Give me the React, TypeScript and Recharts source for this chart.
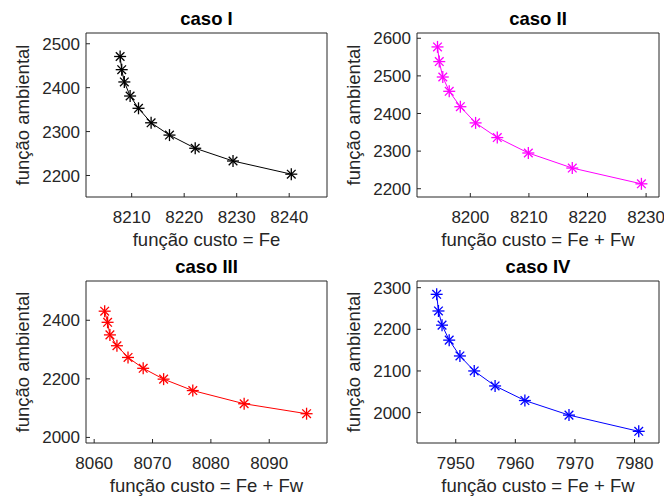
import { LineChart, Line, XAxis, YAxis, Label } from 'recharts'

// caso I
const casoIx = [8207.8, 8208.1, 8208.6, 8209.7, 8211.3, 8213.7, 8217.2, 8222.1, 8229.3, 8240.4]
const casoIy = [2471, 2441, 2413, 2381, 2353, 2320, 2292, 2262, 2233, 2203]
// caso II
const casoIIx = [8194.4, 8194.7, 8195.3, 8196.4, 8198.3, 8200.9, 8204.6, 8209.9, 8217.4, 8229.2]
const casoIIy = [2577, 2538, 2497, 2459, 2418, 2375, 2336, 2295, 2255, 2213]
// caso III
const casoIIIx = [8061.8, 8062.3, 8062.7, 8063.9, 8065.8, 8068.4, 8071.9, 8076.9, 8085.7, 8096.4]
const casoIIIy = [2431, 2393, 2350, 2313, 2273, 2236, 2199, 2160, 2115, 2081]
// caso IV
const casoIVx = [7946.8, 7947.1, 7947.7, 7948.9, 7950.7, 7953.1, 7956.6, 7961.6, 7969.0, 7980.7]
const casoIVy = [2284, 2244, 2210, 2174, 2136, 2100, 2064, 2029, 1994, 1955]

const ticksXI = [8210, 8220, 8230, 8240]
const ticksYI = [2200, 2300, 2400, 2500]
const ticksXII = [8200, 8210, 8220, 8230]
const ticksYII = [2200, 2300, 2400, 2500, 2600]
const ticksXIII = [8060, 8070, 8080, 8090]
const ticksYIII = [2000, 2200, 2400]
const ticksXIV = [7950, 7960, 7970, 7980]
const ticksYIV = [2000, 2100, 2200, 2300]

const FONT = '"Liberation Sans", Arial, Helvetica, sans-serif'
const AX = '#262626'

const Asterisk = (props: any) => {
    const { cx, cy, color } = props
    if (cx == null || cy == null) return null
    const r = 6
    const d = r * 0.72
    return (
        <g stroke={color} strokeWidth={1.3}>
            <line x1={cx - r} y1={cy} x2={cx + r} y2={cy} />
            <line x1={cx} y1={cy - r} x2={cx} y2={cy + r} />
            <line x1={cx - d} y1={cy - d} x2={cx + d} y2={cy + d} />
            <line x1={cx - d} y1={cy + d} x2={cx + d} y2={cy - d} />
        </g>
    )
}

interface panelProps {
    left: number
    top: number
    width: number
    height: number
    margin: { top: number, right: number, bottom: number, left: number }
    yWidth: number
    xHeight: number
    xs: number[]
    ys: number[]
    color: string
    xDomain: [number, number]
    yDomain: [number, number]
    xTicks: number[]
    yTicks: number[]
    title: string
    xLabel: string
}

const Panel = (p: panelProps) => {
    const data = p.xs.map((x, i) => ({ x, y: p.ys[i] }))
    const axisProps = { stroke: AX, tickSize: -4, axisLine: { stroke: AX }, tickLine: { stroke: AX } }
    return (
        <div style={{ position: 'absolute', left: p.left, top: p.top }}>
            <LineChart width={p.width} height={p.height} data={data} margin={p.margin}>
                <XAxis xAxisId="b" dataKey="x" type="number" domain={p.xDomain} ticks={p.xTicks} allowDataOverflow
                    height={p.xHeight} tickMargin={18} interval={0} {...axisProps}
                    tick={{ fill: AX, fontSize: 17, fontFamily: FONT }}>
                    <Label content={(lp: any) => {
                        const vb = lp.viewBox
                        return (
                            <text x={vb.x + vb.width / 2} y={vb.y + 49} textAnchor="middle" fill={AX}
                                fontSize={18.5} fontFamily={FONT}>{p.xLabel}</text>
                        )
                    }} />
                </XAxis>
                <XAxis xAxisId="t" dataKey="x" type="number" orientation="top" domain={p.xDomain} ticks={p.xTicks}
                    allowDataOverflow height={1} tick={false} interval={0} {...axisProps}>
                    <Label content={(lp: any) => {
                        const vb = lp.viewBox
                        return (
                            <text x={vb.x + vb.width / 2} y={vb.y + vb.height - 8} textAnchor="middle" fill="#000"
                                fontSize={18.5} fontWeight="bold" fontFamily={FONT}>{p.title}</text>
                        )
                    }} />
                </XAxis>
                <YAxis yAxisId="l" type="number" domain={p.yDomain} ticks={p.yTicks} allowDataOverflow
                    width={p.yWidth} tickMargin={10} interval={0} {...axisProps}
                    tick={{ fill: AX, fontSize: 17, fontFamily: FONT }}>
                    <Label content={(lp: any) => {
                        const vb = lp.viewBox
                        const cx = vb.x + vb.width - 64
                        const cy = vb.y + vb.height / 2
                        return (
                            <text x={cx} y={cy} transform={`rotate(-90 ${cx} ${cy})`} textAnchor="middle"
                                dominantBaseline="central" fill={AX} fontSize={18.5} fontFamily={FONT}>função ambiental</text>
                        )
                    }} />
                </YAxis>
                <YAxis yAxisId="r" type="number" orientation="right" domain={p.yDomain} ticks={p.yTicks}
                    allowDataOverflow width={1} tick={false} interval={0} {...axisProps} />
                <Line xAxisId="b" yAxisId="l" type="linear" dataKey="y" stroke={p.color} strokeWidth={1}
                    isAnimationActive={false}
                    dot={(dp: any) => <Asterisk key={dp.index} cx={dp.cx} cy={dp.cy} color={p.color} />} />
            </LineChart>
        </div>
    )
}

export default function App() {
    return (
        <div style={{ position: 'absolute', left: 0, top: 0, width: 664, height: 499, background: '#fff' }}>
            <Panel left={0} top={0} width={332} height={250} margin={{ top: 32, right: 4, bottom: 0, left: 0 }}
                yWidth={86} xHeight={53} xs={casoIx} ys={casoIy} color="#000000"
                xDomain={[8201.3, 8247.2]} yDomain={[2151, 2524.5]} xTicks={ticksXI} yTicks={ticksYI}
                title="caso I" xLabel="função custo = Fe" />
            <Panel left={332} top={0} width={332} height={250} margin={{ top: 32, right: 4, bottom: 0, left: 0 }}
                yWidth={85} xHeight={53} xs={casoIIx} ys={casoIIy} color="#ff00ff"
                xDomain={[8190.9, 8232.2]} yDomain={[2178, 2614]} xTicks={ticksXII} yTicks={ticksYII}
                title="caso II" xLabel="função custo = Fe + Fw" />
            <Panel left={0} top={250} width={332} height={249} margin={{ top: 30, right: 4, bottom: 0, left: 0 }}
                yWidth={86} xHeight={56} xs={casoIIIx} ys={casoIIIy} color="#ff0000"
                xDomain={[8058.6, 8099.9]} yDomain={[1981, 2534]} xTicks={ticksXIII} yTicks={ticksYIII}
                title="caso III" xLabel="função custo = Fe + Fw" />
            <Panel left={332} top={250} width={332} height={249} margin={{ top: 30, right: 4, bottom: 0, left: 0 }}
                yWidth={85} xHeight={56} xs={casoIVx} ys={casoIVy} color="#0000ff"
                xDomain={[7943.5, 7984.1]} yDomain={[1927, 2316]} xTicks={ticksXIV} yTicks={ticksYIV}
                title="caso IV" xLabel="função custo = Fe + Fw" />
        </div>
    )
}
